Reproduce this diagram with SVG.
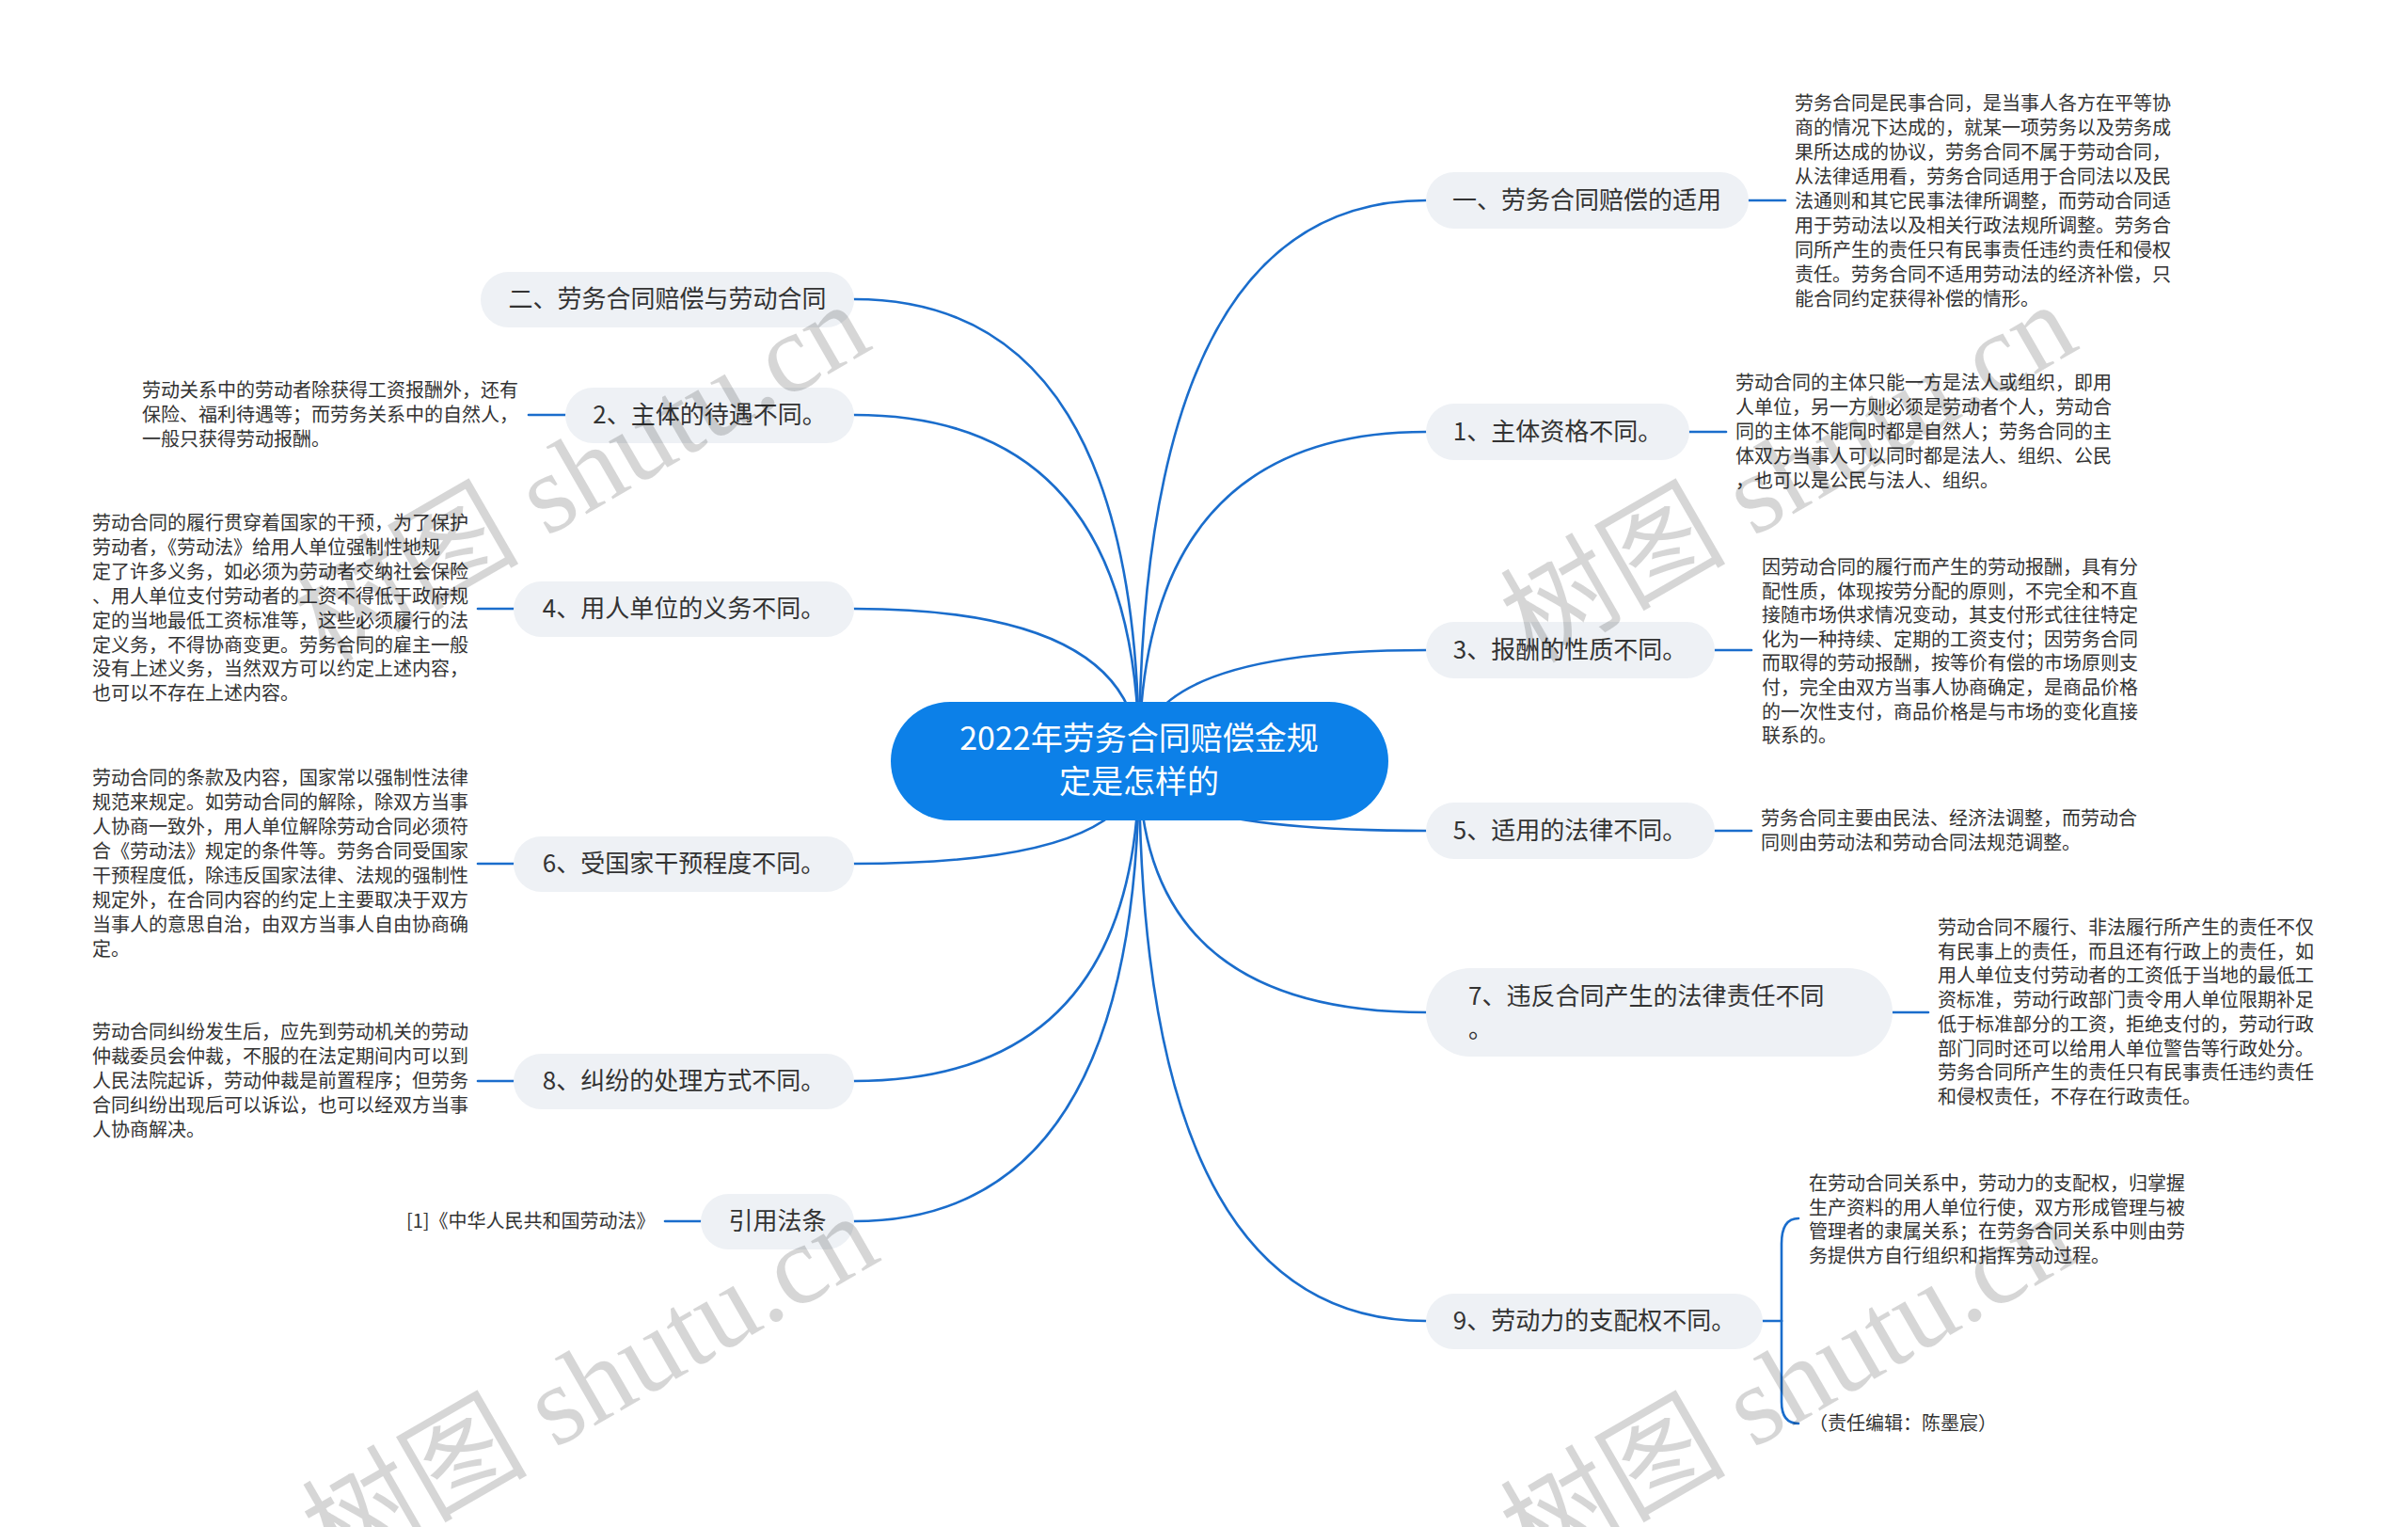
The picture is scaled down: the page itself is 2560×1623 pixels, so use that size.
<svg xmlns="http://www.w3.org/2000/svg" width="2560" height="1623" viewBox="0 0 2560 1623">
<defs>
<style>
.bg{fill:#ffffff}
.c{fill:none;stroke:#1a6dcc;stroke-width:2.6;stroke-linecap:round}
.n rect{fill:#eef1f5}
.nt{font-family:"Noto Sans CJK SC","Noto Sans",sans-serif;font-size:26px;fill:#333333}
.dt{font-family:"Noto Sans CJK SC","Noto Sans",sans-serif;font-size:20px;fill:#333333}
.root rect{fill:#0c80e8}
.rt{font-family:"Noto Sans CJK SC","Noto Sans",sans-serif;font-size:34px;fill:#ffffff}
.wm{font-family:"Liberation Serif","Noto Sans CJK SC",serif;font-size:120px;fill:#000000;fill-opacity:0.16}
</style>
</defs>
<rect class="bg" x="0" y="0" width="2560" height="1623"/>

<g id="connectors">
<path class="c" d="M1211,809 Q1211,213 1516,213"/>
<path class="c" d="M1211,809 Q1211,459 1516,459"/>
<path class="c" d="M1211,809 Q1211,691 1516,691"/>
<path class="c" d="M1211,809 Q1211,883 1516,883"/>
<path class="c" d="M1211,809 Q1211,1076 1516,1076"/>
<path class="c" d="M1211,809 Q1211,1404 1516,1404"/>
<path class="c" d="M1211,809 Q1211,318 908,318"/>
<path class="c" d="M1211,809 Q1211,441 908,441"/>
<path class="c" d="M1211,809 Q1211,647 908,647"/>
<path class="c" d="M1211,809 Q1211,918 908,918"/>
<path class="c" d="M1211,809 Q1211,1149 908,1149"/>
<path class="c" d="M1211,809 Q1211,1298 908,1298"/>
<path class="c" d="M1859,213 L1898,213"/>
<path class="c" d="M1796,459 L1835,459"/>
<path class="c" d="M1823,691 L1862,691"/>
<path class="c" d="M1823,883 L1862,883"/>
<path class="c" d="M2012,1076 L2050,1076"/>
<path class="c" d="M1874,1404 L1894,1404"/>
<path class="c" d="M1894,1404 L1894,1322 Q1894,1295 1912,1295"/>
<path class="c" d="M1894,1404 L1894,1490 Q1894,1513 1912,1513"/>
<path class="c" d="M601,441 L562,441"/>
<path class="c" d="M546,647 L508,647"/>
<path class="c" d="M546,918 L508,918"/>
<path class="c" d="M546,1149 L508,1149"/>
<path class="c" d="M745,1298 L707,1298"/>
</g>

<g id="root" class="root">
<rect x="947" y="746" width="529" height="126" rx="63"/>
<text class="rt" text-anchor="middle"><tspan x="1211" y="797">2022年劳务合同赔偿金规</tspan><tspan x="1211" y="843">定是怎样的</tspan></text>
</g>

<g id="n-r0" class="n">
<rect x="1516" y="183" width="343" height="60" rx="30"/>
<text class="nt" x="1687" y="222" text-anchor="middle">一、劳务合同赔偿的适用</text>
</g>
<g id="n-r1" class="n">
<rect x="1516" y="429" width="280" height="60" rx="30"/>
<text class="nt" x="1656" y="468" text-anchor="middle">1、主体资格不同。</text>
</g>
<g id="n-r3" class="n">
<rect x="1516" y="661" width="307" height="60" rx="30"/>
<text class="nt" x="1669" y="700" text-anchor="middle">3、报酬的性质不同。</text>
</g>
<g id="n-r5" class="n">
<rect x="1516" y="853" width="307" height="60" rx="30"/>
<text class="nt" x="1669" y="892" text-anchor="middle">5、适用的法律不同。</text>
</g>
<g id="n-r7" class="n">
<rect x="1516" y="1029" width="496" height="94" rx="47"/>
<text class="nt"><tspan x="1561" y="1068">7、违反合同产生的法律责任不同</tspan><tspan x="1561" y="1103">。</tspan></text>
</g>
<g id="n-r9" class="n">
<rect x="1516" y="1375" width="358" height="59" rx="29.5"/>
<text class="nt" x="1695" y="1413" text-anchor="middle">9、劳动力的支配权不同。</text>
</g>

<g id="n-l0" class="n">
<rect x="511" y="289" width="397" height="59" rx="29.5"/>
<text class="nt" x="709.5" y="327" text-anchor="middle">二、劳务合同赔偿与劳动合同</text>
</g>
<g id="n-l2" class="n">
<rect x="601" y="412" width="307" height="59" rx="29.5"/>
<text class="nt" x="754.5" y="450" text-anchor="middle">2、主体的待遇不同。</text>
</g>
<g id="n-l4" class="n">
<rect x="546" y="618" width="362" height="59" rx="29.5"/>
<text class="nt" x="727" y="656" text-anchor="middle">4、用人单位的义务不同。</text>
</g>
<g id="n-l6" class="n">
<rect x="546" y="889" width="362" height="59" rx="29.5"/>
<text class="nt" x="727" y="927" text-anchor="middle">6、受国家干预程度不同。</text>
</g>
<g id="n-l8" class="n">
<rect x="546" y="1120" width="362" height="59" rx="29.5"/>
<text class="nt" x="727" y="1158" text-anchor="middle">8、纠纷的处理方式不同。</text>
</g>
<g id="n-law" class="n">
<rect x="745" y="1269" width="163" height="59" rx="29.5"/>
<text class="nt" x="826.5" y="1307" text-anchor="middle">引用法条</text>
</g>

<g id="d-r0">
<text class="dt"><tspan x="1908" y="117">劳务合同是民事合同，是当事人各方在平等协</tspan><tspan x="1908" dy="26">商的情况下达成的，就某一项劳务以及劳务成</tspan><tspan x="1908" dy="26">果所达成的协议，劳务合同不属于劳动合同，</tspan><tspan x="1908" dy="26">从法律适用看，劳务合同适用于合同法以及民</tspan><tspan x="1908" dy="26">法通则和其它民事法律所调整，而劳动合同适</tspan><tspan x="1908" dy="26">用于劳动法以及相关行政法规所调整。劳务合</tspan><tspan x="1908" dy="26">同所产生的责任只有民事责任违约责任和侵权</tspan><tspan x="1908" dy="26">责任。劳务合同不适用劳动法的经济补偿，只</tspan><tspan x="1908" dy="26">能合同约定获得补偿的情形。</tspan></text>
</g>
<g id="d-r1">
<text class="dt"><tspan x="1845" y="414">劳动合同的主体只能一方是法人或组织，即用</tspan><tspan x="1845" dy="26">人单位，另一方则必须是劳动者个人，劳动合</tspan><tspan x="1845" dy="26">同的主体不能同时都是自然人；劳务合同的主</tspan><tspan x="1845" dy="26">体双方当事人可以同时都是法人、组织、公民</tspan><tspan x="1845" dy="26">，也可以是公民与法人、组织。</tspan></text>
</g>
<g id="d-r3">
<text class="dt"><tspan x="1873" y="610">因劳动合同的履行而产生的劳动报酬，具有分</tspan><tspan x="1873" dy="25.6">配性质，体现按劳分配的原则，不完全和不直</tspan><tspan x="1873" dy="25.6">接随市场供求情况变动，其支付形式往往特定</tspan><tspan x="1873" dy="25.6">化为一种持续、定期的工资支付；因劳务合同</tspan><tspan x="1873" dy="25.6">而取得的劳动报酬，按等价有偿的市场原则支</tspan><tspan x="1873" dy="25.6">付，完全由双方当事人协商确定，是商品价格</tspan><tspan x="1873" dy="25.6">的一次性支付，商品价格是与市场的变化直接</tspan><tspan x="1873" dy="25.6">联系的。</tspan></text>
</g>
<g id="d-r5">
<text class="dt"><tspan x="1872" y="877">劳务合同主要由民法、经济法调整，而劳动合</tspan><tspan x="1872" dy="26">同则由劳动法和劳动合同法规范调整。</tspan></text>
</g>
<g id="d-r7">
<text class="dt"><tspan x="2060" y="993">劳动合同不履行、非法履行所产生的责任不仅</tspan><tspan x="2060" dy="25.7">有民事上的责任，而且还有行政上的责任，如</tspan><tspan x="2060" dy="25.7">用人单位支付劳动者的工资低于当地的最低工</tspan><tspan x="2060" dy="25.7">资标准，劳动行政部门责令用人单位限期补足</tspan><tspan x="2060" dy="25.7">低于标准部分的工资，拒绝支付的，劳动行政</tspan><tspan x="2060" dy="25.7">部门同时还可以给用人单位警告等行政处分。</tspan><tspan x="2060" dy="25.7">劳务合同所产生的责任只有民事责任违约责任</tspan><tspan x="2060" dy="25.7">和侵权责任，不存在行政责任。</tspan></text>
</g>
<g id="d-r9a">
<text class="dt"><tspan x="1923" y="1265">在劳动合同关系中，劳动力的支配权，归掌握</tspan><tspan x="1923" dy="25.7">生产资料的用人单位行使，双方形成管理与被</tspan><tspan x="1923" dy="25.7">管理者的隶属关系；在劳务合同关系中则由劳</tspan><tspan x="1923" dy="25.7">务提供方自行组织和指挥劳动过程。</tspan></text>
</g>
<g id="d-r9b">
<text class="dt" x="1923" y="1520">（责任编辑：陈墨宸）</text>
</g>
<g id="d-l2">
<text class="dt"><tspan x="151" y="422">劳动关系中的劳动者除获得工资报酬外，还有</tspan><tspan x="151" dy="26">保险、福利待遇等；而劳务关系中的自然人，</tspan><tspan x="151" dy="26">一般只获得劳动报酬。</tspan></text>
</g>
<g id="d-l4">
<text class="dt"><tspan x="98" y="563">劳动合同的履行贯穿着国家的干预，为了保护</tspan><tspan x="98" dy="25.9">劳动者，《劳动法》给用人单位强制性地规</tspan><tspan x="98" dy="25.9">定了许多义务，如必须为劳动者交纳社会保险</tspan><tspan x="98" dy="25.9">、用人单位支付劳动者的工资不得低于政府规</tspan><tspan x="98" dy="25.9">定的当地最低工资标准等，这些必须履行的法</tspan><tspan x="98" dy="25.9">定义务，不得协商变更。劳务合同的雇主一般</tspan><tspan x="98" dy="25.9">没有上述义务，当然双方可以约定上述内容，</tspan><tspan x="98" dy="25.9">也可以不存在上述内容。</tspan></text>
</g>
<g id="d-l6">
<text class="dt"><tspan x="98" y="834">劳动合同的条款及内容，国家常以强制性法律</tspan><tspan x="98" dy="26">规范来规定。如劳动合同的解除，除双方当事</tspan><tspan x="98" dy="26">人协商一致外，用人单位解除劳动合同必须符</tspan><tspan x="98" dy="26">合《劳动法》规定的条件等。劳务合同受国家</tspan><tspan x="98" dy="26">干预程度低，除违反国家法律、法规的强制性</tspan><tspan x="98" dy="26">规定外，在合同内容的约定上主要取决于双方</tspan><tspan x="98" dy="26">当事人的意思自治，由双方当事人自由协商确</tspan><tspan x="98" dy="26">定。</tspan></text>
</g>
<g id="d-l8">
<text class="dt"><tspan x="98" y="1104">劳动合同纠纷发生后，应先到劳动机关的劳动</tspan><tspan x="98" dy="26">仲裁委员会仲裁，不服的在法定期间内可以到</tspan><tspan x="98" dy="26">人民法院起诉，劳动仲裁是前置程序；但劳务</tspan><tspan x="98" dy="26">合同纠纷出现后可以诉讼，也可以经双方当事</tspan><tspan x="98" dy="26">人协商解决。</tspan></text>
</g>
<g id="d-law">
<text class="dt" x="432" y="1305">[1]《中华人民共和国劳动法》</text>
</g>

<g id="watermarks">
<text class="wm" transform="translate(347,706) rotate(-30)">树图 shutu.cn</text>
<text class="wm" transform="translate(1630,706) rotate(-30)">树图 shutu.cn</text>
<text class="wm" transform="translate(356,1675) rotate(-30)">树图 shutu.cn</text>
<text class="wm" transform="translate(1630,1675) rotate(-30)">树图 shutu.cn</text>
</g>
</svg>
